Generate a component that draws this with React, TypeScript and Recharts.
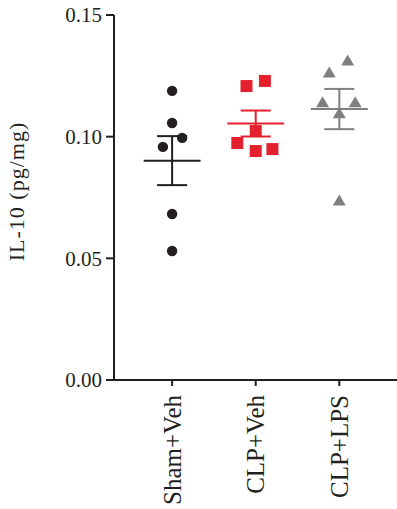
import React from "react";
import {
  ScatterChart,
  Scatter,
  XAxis,
  YAxis,
  ReferenceLine,
} from "recharts";

// groups on the x axis
const GROUPS = ["Sham+Veh", "CLP+Veh", "CLP+LPS"];

// IL-10 values (pg/mg)
const SHAM_VEH = [0.1188, 0.1056, 0.0995, 0.0958, 0.0682, 0.053];
const CLP_VEH = [0.1229, 0.1208, 0.1023, 0.0974, 0.0949, 0.0941];
const CLP_LPS = [0.1311, 0.1262, 0.1139, 0.1139, 0.1094, 0.0736];

// horizontal scatter of the dots, in group units
const SHAM_VEH_JITTER = [0, 0, 0.12, -0.11, 0, 0];
const CLP_VEH_JITTER = [0.11, -0.11, 0, -0.22, 0.2, 0];
const CLP_LPS_JITTER = [0.1, -0.12, -0.2, 0.19, 0, 0];

const Y_TICKS = [0, 0.05, 0.1, 0.15];

const INK = "#231f20";
const RED = "#e3202d";
const GREY = "#7f7f7f";
const FONT = "'Liberation Serif', 'Times New Roman', serif";

const toPoints = (vals: number[], jitter: number[], group: number) =>
  vals.map((v, i) => ({ x: group + jitter[i], y: v }));

const meanSem = (vals: number[]) => {
  const n = vals.length;
  const mean = vals.reduce((a, b) => a + b, 0) / n;
  const sd = Math.sqrt(vals.reduce((a, b) => a + (b - mean) ** 2, 0) / (n - 1));
  return { mean, sem: sd / Math.sqrt(n) };
};

const series = [
  { vals: SHAM_VEH, jitter: SHAM_VEH_JITTER, color: INK, kind: "circle" },
  { vals: CLP_VEH, jitter: CLP_VEH_JITTER, color: RED, kind: "square" },
  { vals: CLP_LPS, jitter: CLP_LPS_JITTER, color: GREY, kind: "triangle" },
];

const MEAN_HALF = 0.34;
const CAP_HALF = 0.18;

function Marker({ cx, cy, kind, color }: any) {
  if (cx == null || cy == null) return null;
  if (kind === "square")
    return <rect x={cx - 6} y={cy - 6} width={12} height={12} fill={color} />;
  if (kind === "triangle")
    return (
      <polygon
        points={`${cx},${cy - 6.5} ${cx + 6.5},${cy + 4.5} ${cx - 6.5},${cy + 4.5}`}
        fill={color}
      />
    );
  return <circle cx={cx} cy={cy} r={5.2} fill={color} />;
}

function GroupTick({ x, y, payload }: any) {
  return (
    <text
      transform={`translate(${x},${y + 7}) rotate(-90)`}
      textAnchor="end"
      dominantBaseline="central"
      fontFamily={FONT}
      fontSize={25}
      fill={INK}
    >
      {GROUPS[payload.value - 1]}
    </text>
  );
}

function YLabel({ viewBox }: any) {
  const cy = viewBox.y + viewBox.height / 2 - 6;
  return (
    <text
      transform={`translate(16,${cy}) rotate(-90)`}
      textAnchor="middle"
      dominantBaseline="central"
      fontFamily={FONT}
      fontSize={22}
      letterSpacing={1}
      fill={INK}
    >
      IL-10 (pg/mg)
    </text>
  );
}

export default function App() {
  return (
    <div style={{ position: "absolute", left: 0, top: 0, background: "#fff" }}>
      <ScatterChart
        width={397}
        height={509}
        margin={{ top: 15, right: 0, bottom: 0, left: 0 }}
      >
        <XAxis
          type="number"
          dataKey="x"
          domain={[0.305, 3.69]}
          ticks={[1, 2, 3]}
          height={129}
          tickSize={6}
          tick={<GroupTick />}
          axisLine={{ stroke: INK, strokeWidth: 2 }}
          tickLine={{ stroke: INK, strokeWidth: 2 }}
          allowDataOverflow
        />
        <YAxis
          type="number"
          dataKey="y"
          domain={[0, 0.15]}
          ticks={Y_TICKS}
          width={114}
          tickSize={8}
          tickMargin={4}
          tickFormatter={(v: number) => v.toFixed(2)}
          tick={{ fill: INK, fontSize: 21, fontFamily: FONT }}
          axisLine={{ stroke: INK, strokeWidth: 2 }}
          tickLine={{ stroke: INK, strokeWidth: 2 }}
          label={<YLabel />}
        />
        {series.map((s, gi) => (
          <Scatter
            key={gi}
            data={toPoints(s.vals, s.jitter, gi + 1)}
            isAnimationActive={false}
            shape={(p: any) => <Marker {...p} kind={s.kind} color={s.color} />}
          />
        ))}
        {series.map((s, gi) => {
          const g = gi + 1;
          const { mean, sem } = meanSem(s.vals);
          const lp = { stroke: s.color, strokeWidth: 2, ifOverflow: "visible" as const };
          return (
            <React.Fragment key={"m" + gi}>
              <ReferenceLine
                {...lp}
                segment={[{ x: g - MEAN_HALF, y: mean }, { x: g + MEAN_HALF, y: mean }]}
              />
              <ReferenceLine
                {...lp}
                segment={[{ x: g, y: mean - sem }, { x: g, y: mean + sem }]}
              />
              <ReferenceLine
                {...lp}
                segment={[{ x: g - CAP_HALF, y: mean + sem }, { x: g + CAP_HALF, y: mean + sem }]}
              />
              <ReferenceLine
                {...lp}
                segment={[{ x: g - CAP_HALF, y: mean - sem }, { x: g + CAP_HALF, y: mean - sem }]}
              />
            </React.Fragment>
          );
        })}
      </ScatterChart>
    </div>
  );
}
